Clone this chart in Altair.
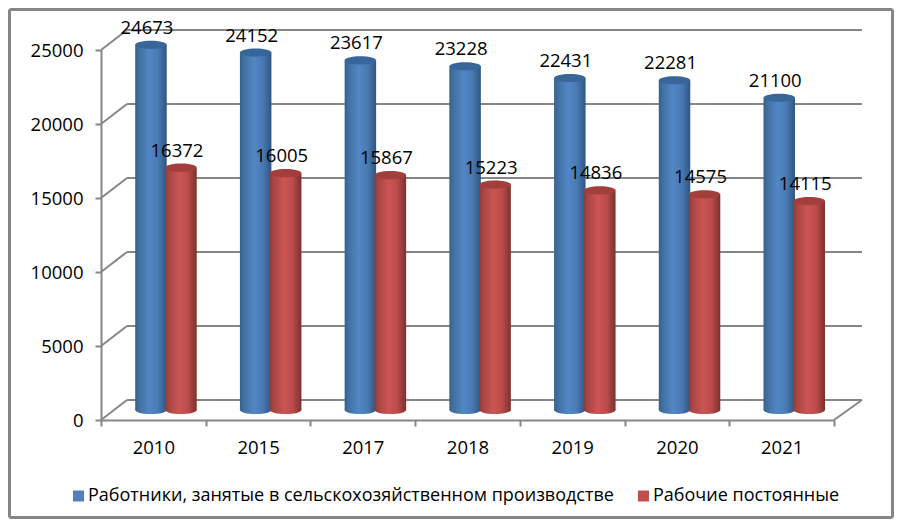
import altair as alt
import pandas as pd

years = ["2010", "2015", "2017", "2018", "2019", "2020", "2021"]
workers = [24673, 24152, 23617, 23228, 22431, 22281, 21100]
permanent = [16372, 16005, 15867, 15223, 14836, 14575, 14115]
series_names = ["Работники, занятые в сельскохозяйственном производстве", "Рабочие постоянные"]
ticks = [0, 5000, 10000, 15000, 20000, 25000]

GRAY = "#868686"
FONT = "Open Sans"
TEXT = "#000000"
ELLIPSE = "M-1,0 A1,0.26 0 1,1 1,0 A1,0.26 0 1,1 -1,0 Z"
BAR_W = 31.5
LIFT = -10
DEPTH = -20


def grad(stops):
    return alt.Gradient(
        gradient="linear", x1=0, x2=1, y1=0, y2=0,
        stops=[alt.GradientStop(offset=o, color=c) for o, c in stops],
    )


blue_body = grad([(0, "#35608F"), (0.12, "#41709F"), (0.45, "#5286C6"), (0.72, "#4A7AB4"), (1, "#2E5683")])
red_body = grad([(0, "#8E3B39"), (0.12, "#A84644"), (0.45, "#CC5553"), (0.72, "#BA4C4A"), (1, "#7C302E")])

x_scale = alt.Scale(domain=years, paddingInner=0, paddingOuter=0)
y_scale = alt.Scale(domain=[0, 25000], nice=False)
x_axis = alt.Axis(
    tickBand="extent", labelAngle=0, labelFont=FONT, labelFontSize=18.5, labelColor=TEXT,
    domainColor=GRAY, domainWidth=2, tickColor=GRAY, tickWidth=2, tickSize=6,
    labelPadding=12, grid=False, title=None,
)
y_axis = alt.Axis(
    values=ticks, labelFont=FONT, labelFontSize=18.5, labelColor=TEXT, format="d",
    domainColor=GRAY, domainWidth=2, tickColor=GRAY, tickWidth=2, tickSize=6,
    labelPadding=12, grid=False, title=None,
)


def X():
    return alt.X("year:N", scale=x_scale, sort=years, axis=x_axis)


def Y(field):
    return alt.Y(f"{field}:Q", scale=y_scale, axis=y_axis)


df_tick = pd.DataFrame({"tick": ticks})
df_one = pd.DataFrame({"a": [0]})
line = dict(color=GRAY, strokeWidth=2)

back_grid = alt.Chart(df_tick).mark_rule(yOffset=DEPTH, y2Offset=DEPTH, **line).encode(
    y=Y("tick"), y2="tick:Q", x=alt.value(26), x2=alt.value(761)
)
left_wall = alt.Chart(df_tick).mark_rule(y2Offset=DEPTH, **line).encode(
    y=Y("tick"), y2="tick:Q", x=alt.value(0), x2=alt.value(26)
)
right_floor = alt.Chart(df_tick[df_tick.tick == 0]).mark_rule(y2Offset=DEPTH, **line).encode(
    y=Y("tick"), y2="tick:Q", x=alt.value(733), x2=alt.value(761)
)

frame_line = dict(color=GRAY, strokeWidth=3)
L, R, T, B = -91.5, 791.5, -40.5, 467.5
frame = [
    alt.Chart(df_one).mark_rule(**frame_line).encode(x=alt.value(L), x2=alt.value(R), y=alt.value(T)),
    alt.Chart(df_one).mark_rule(**frame_line).encode(x=alt.value(L), x2=alt.value(R), y=alt.value(B)),
    alt.Chart(df_one).mark_rule(**frame_line).encode(x=alt.value(L), y=alt.value(T), y2=alt.value(B)),
    alt.Chart(df_one).mark_rule(**frame_line).encode(x=alt.value(R), y=alt.value(T), y2=alt.value(B)),
]


def cylinder(values, body, cap, dx):
    d = pd.DataFrame({"year": years, "value": values, "zero": [0] * len(years)})
    size = BAR_W ** 2
    bottom = alt.Chart(d).mark_point(
        shape=ELLIPSE, filled=True, fill=body, size=size, opacity=1, strokeWidth=0, xOffset=dx, yOffset=LIFT
    ).encode(x=X(), y=Y("zero"))
    bar = alt.Chart(d).mark_bar(
        fill=body, width=BAR_W, xOffset=dx, x2Offset=dx, yOffset=LIFT, y2Offset=LIFT
    ).encode(x=X(), y=Y("value"), y2="zero:Q")
    top = alt.Chart(d).mark_point(
        shape=ELLIPSE, filled=True, fill=cap, size=size, opacity=1, strokeWidth=0, xOffset=dx, yOffset=LIFT
    ).encode(x=X(), y=Y("value"))
    label = alt.Chart(d).mark_text(
        font=FONT, fontSize=18.5, color=TEXT, xOffset=dx - 4, yOffset=LIFT - 17, baseline="middle"
    ).encode(x=X(), y=Y("value"), text=alt.Text("value:Q", format="d"))
    return [bottom, bar, top], label


blue_parts, blue_label = cylinder(workers, blue_body, "#38659A", -2.4)
red_parts, red_label = cylinder(permanent, red_body, "#A23E3B", 27.6)

legend_df = pd.DataFrame({"year": years[:2], "value": [0, 0], "name": series_names})
legend_layer = alt.Chart(legend_df).mark_square(size=0).encode(
    x=X(),
    y=Y("value"),
    color=alt.Color(
        "name:N",
        scale=alt.Scale(domain=series_names, range=["#4F81BD", "#C0504D"]),
        legend=alt.Legend(
            orient="none", legendX=-31.5, legendY=437, direction="horizontal", title=None,
            labelFont=FONT, labelFontSize=18, labelColor=TEXT, labelLimit=700,
            symbolType="square", symbolSize=121, symbolOpacity=1, symbolStrokeWidth=0,
            columnPadding=20, padding=0, labelOffset=0.5,
        ),
    ),
)

chart = alt.layer(
    *frame, back_grid, left_wall, right_floor, *blue_parts, *red_parts, blue_label, red_label, legend_layer
).properties(
    width=733, height=370,
    padding={"left": 93, "top": 42, "right": 60, "bottom": 99},
    autosize=alt.AutoSizeParams(type="none"),
    background="#ffffff",
).configure_view(stroke=None)

chart.save("out.html", embed_options={"renderer": "svg", "actions": False})
